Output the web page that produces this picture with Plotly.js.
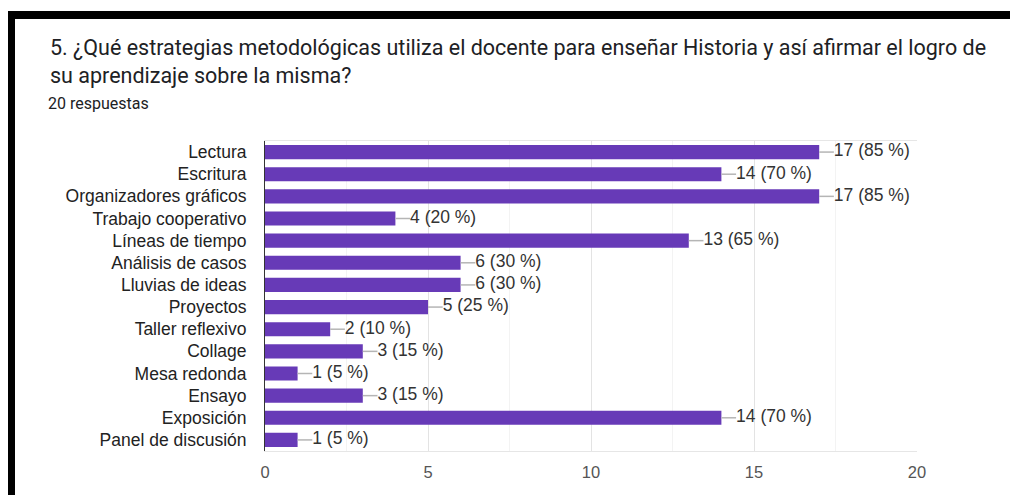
<!DOCTYPE html>
<html>
<head>
<meta charset="utf-8">
<script src="https://cdn.plot.ly/plotly-3.0.1.min.js"></script>
<style>
  html, body { margin: 0; padding: 0; background: #fff; }
  #frame { position: absolute; left: 8px; top: 11px; width: 1002px; height: 484px;
           border-top: 8px solid #000; border-left: 7px solid #000; box-sizing: border-box; }
  #chart { position: absolute; left: 0; top: 0; width: 1010px; height: 495px; }
</style>
</head>
<body>
<div id="frame"></div>
<div id="chart"></div>
<script>
const titleLine1 = "5. ¿Qué estrategias metodológicas utiliza el docente para enseñar Historia y así afirmar el logro de";
const titleLine2 = "su aprendizaje sobre la misma?";
const totalResponses = 20;
const subtitle = totalResponses + " respuestas";

const categories = [
  "Lectura", "Escritura", "Organizadores gráficos", "Trabajo cooperativo",
  "Líneas de tiempo", "Análisis de casos", "Lluvias de ideas", "Proyectos",
  "Taller reflexivo", "Collage", "Mesa redonda", "Ensayo", "Exposición",
  "Panel de discusión"
];
const counts = [17, 14, 17, 4, 13, 6, 6, 5, 2, 3, 1, 3, 14, 1];
const xTicks = [0, 5, 10, 15, 20];

const labels = counts.map(c => c + " (" + Math.round(c / totalResponses * 100) + " %)");
const leadLen = 0.45;

const leaderX = [], leaderY = [];
counts.forEach((c, i) => { leaderX.push(c, c + leadLen, null); leaderY.push(categories[i], categories[i], null); });

const chartFont = "Arial, 'Liberation Sans', sans-serif";
const titleFont = "Roboto, Arial, sans-serif";

const traces = [
  {
    type: "bar", orientation: "h", x: counts, y: categories,
    marker: { color: "#673ab7", line: { width: 0 } },
    hoverinfo: "none", cliponaxis: false
  },
  {
    type: "scatter", mode: "lines", x: leaderX, y: leaderY,
    line: { color: "#b5b5b5", width: 1.5 }, hoverinfo: "none", cliponaxis: false
  },
  {
    type: "scatter", mode: "text", x: counts.map(c => c + leadLen), y: categories,
    text: labels, textposition: "middle right",
    textfont: { family: chartFont, size: 17.5, color: "#333" },
    hoverinfo: "none", cliponaxis: false
  }
];

const px2x = px => (px - 265) / 652;
const px2y = py => (451 - py) / 310;

const layout = {
  width: 1010, height: 495,
  margin: { l: 265, r: 93, t: 141, b: 44 },
  paper_bgcolor: "rgba(0,0,0,0)", plot_bgcolor: "rgba(0,0,0,0)",
  showlegend: false,
  bargap: 0.36,
  font: { family: chartFont, size: 16, color: "#222" },
  xaxis: {
    range: [0, 20], tickvals: xTicks, ticktext: xTicks.map(String),
    showgrid: true, gridcolor: "#e3e3e3", gridwidth: 1,
    minor: { dtick: 2.5, showgrid: true, gridcolor: "#f3f3f3", gridwidth: 1 },
    zeroline: false, showline: true, linecolor: "#e6e6e6", linewidth: 1, mirror: true,
    ticks: "", ticklabelstandoff: 6,
    tickfont: { family: chartFont, size: 16.5, color: "#555" },
    fixedrange: true
  },
  yaxis: {
    categoryorder: "array", categoryarray: categories,
    range: [categories.length - 0.5, -0.5],
    showgrid: false, zeroline: false, showline: true, linecolor: "#333", linewidth: 1,
    ticks: "", ticklabelstandoff: 14,
    tickfont: { family: chartFont, size: 17.5, color: "#222" },
    fixedrange: true
  },
  annotations: [
    { text: titleLine1, xref: "paper", yref: "paper", x: px2x(48), y: px2y(47),
      xanchor: "left", yanchor: "middle", showarrow: false,
      font: { family: titleFont, size: 21.5, color: "#202124" } },
    { text: titleLine2, xref: "paper", yref: "paper", x: px2x(48), y: px2y(76),
      xanchor: "left", yanchor: "middle", showarrow: false,
      font: { family: titleFont, size: 21.5, color: "#202124" } },
    { text: subtitle, xref: "paper", yref: "paper", x: px2x(46), y: px2y(103),
      xanchor: "left", yanchor: "middle", showarrow: false,
      font: { family: titleFont, size: 16, color: "#202124" } }
  ]
};

Plotly.newPlot("chart", traces, layout, { staticPlot: true, displayModeBar: false });
</script>
</body>
</html>
